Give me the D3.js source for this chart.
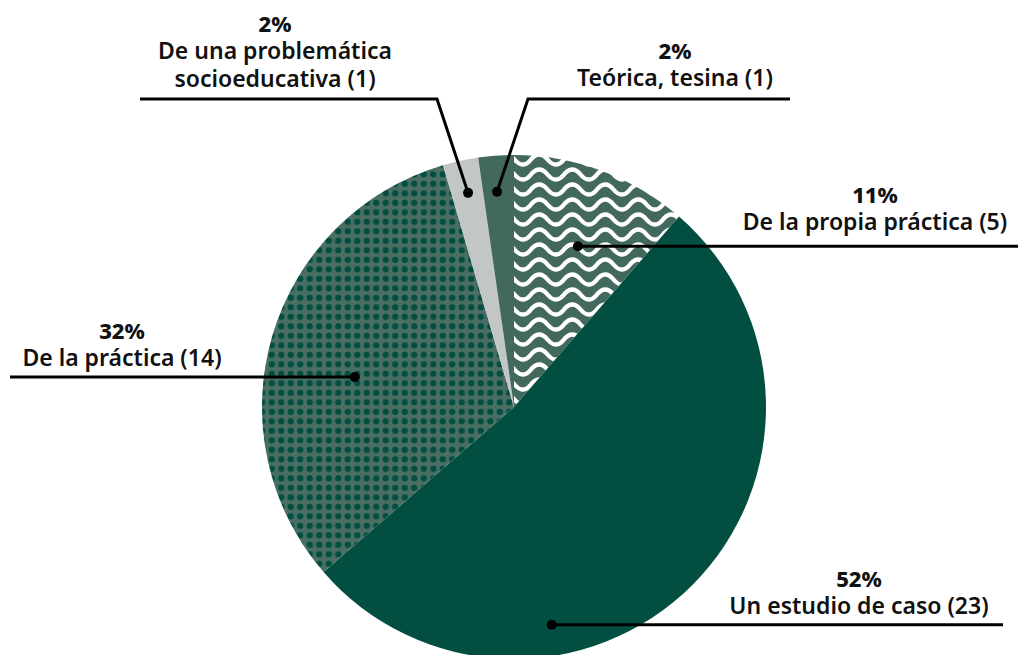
<!DOCTYPE html>
<html>
<head>
<meta charset="utf-8">
<script src="https://cdn.jsdelivr.net/npm/d3@7"></script>
<style>
  body { margin: 0; background: #ffffff; }
  #chart { width: 1018px; height: 655px; overflow: hidden; }
</style>
</head>
<body>
<div id="chart"></div>
<script>
// data
const categories = [
  "De la propia práctica",
  "Un estudio de caso",
  "De la práctica",
  "De una problemática socioeducativa",
  "Teórica, tesina"
];
const counts = [5, 23, 14, 1, 1];
// how the label names wrap
const labelLines = [
  ["De la propia práctica (5)"],
  ["Un estudio de caso (23)"],
  ["De la práctica (14)"],
  ["De una problemática", "socioeducativa (1)"],
  ["Teórica, tesina (1)"]
];

const width = 1018, height = 655;
const cx = 514, cy = 407, radius = 252;

// label placement: t = fraction along slice, r = dot radius
const layout = [
  {t: 0.53, r: 173, elbowX: null, elbowY: null, endX: 1018, tx: 875, ty: 203},
  {t: 0.687, r: 221, elbowX: null, elbowY: null, endX: 1003, tx: 859, ty: 587},
  {t: 0.45, r: 162, elbowX: null, elbowY: null, endX: 10, tx: 122, ty: 339},
  {t: 0.52, r: 219, elbowX: 437, elbowY: 99, endX: 140, tx: 275, ty: 32},
  {t: 0.45, r: 216, elbowX: 528, elbowY: 99, endX: 790, tx: 675, ty: 59}
];

const fills = ["url(#waves)", "#024f42", "url(#dots)", "#c2c6c4", "#43695e"];

const svg = d3.select("#chart")
  .append("svg")
  .attr("width", width)
  .attr("height", height);

const defs = svg.append("defs");

const waves = defs.append("pattern")
  .attr("id", "waves")
  .attr("patternUnits", "userSpaceOnUse")
  .attr("x", 512)
  .attr("y", 150)
  .attr("width", 33)
  .attr("height", 15);
waves.append("rect").attr("width", 33).attr("height", 15).attr("fill", "#43695e");
waves.append("path")
  .attr("d", "M-16.5 7.5 Q -8.25 17.5 0 7.5 T 16.5 7.5 T 33 7.5 T 49.5 7.5")
  .attr("fill", "none")
  .attr("stroke", "#ffffff")
  .attr("stroke-width", 4.3);

const dots = defs.append("pattern")
  .attr("id", "dots")
  .attr("patternUnits", "userSpaceOnUse")
  .attr("width", 9.5)
  .attr("height", 9.5);
dots.append("rect").attr("width", 9.5).attr("height", 9.5).attr("fill", "#4a6e63");
dots.append("circle").attr("cx", 4.75).attr("cy", 4.75).attr("r", 3.2).attr("fill", "#024f42");

const pie = d3.pie().sort(null).value(d => d);
const arcs = pie(counts);
const total = d3.sum(counts);

const arc = d3.arc().innerRadius(0).outerRadius(radius);

const g = svg.append("g").attr("transform", `translate(${cx},${cy})`);

g.selectAll("path.slice")
  .data(arcs)
  .enter()
  .append("path")
  .attr("class", "slice")
  .attr("d", arc)
  .attr("fill", (d, i) => fills[i]);

// leader lines and labels
const font = "'Noto Sans', sans-serif";

arcs.forEach((d, i) => {
  const L = layout[i];
  const a = d.startAngle + (d.endAngle - d.startAngle) * L.t;
  const px = cx + L.r * Math.sin(a);
  const py = cy - L.r * Math.cos(a);

  let pts;
  if (L.elbowX !== null) {
    pts = [[px, py], [L.elbowX, L.elbowY], [L.endX, L.elbowY]];
  } else {
    pts = [[px, py], [L.endX, py]];
  }

  svg.append("path")
    .attr("d", d3.line()(pts))
    .attr("fill", "none")
    .attr("stroke", "#000000")
    .attr("stroke-width", 3)
    .attr("stroke-linejoin", "miter");

  svg.append("circle")
    .attr("cx", px)
    .attr("cy", py)
    .attr("r", 5)
    .attr("fill", "#000000");

  const pct = Math.round(d.value / total * 100) + "%";

  // percent and name as separate text elements
  svg.append("text")
    .attr("x", L.tx)
    .attr("y", L.ty)
    .attr("text-anchor", "middle")
    .style("font-family", font)
    .style("font-size", "22px")
    .style("font-weight", "800")
    .style("fill", "#111111")
    .text(pct);

  labelLines[i].forEach((line, j) => {
    svg.append("text")
      .attr("x", L.tx)
      .attr("y", L.ty + 27 * (j + 1) + (j > 0 ? 1 : 0))
      .attr("text-anchor", "middle")
      .style("font-family", font)
      .style("font-size", "23px")
      .style("font-weight", "600")
      .style("fill", "#111111")
      .text(line);
  });
});
</script>
</body>
</html>
